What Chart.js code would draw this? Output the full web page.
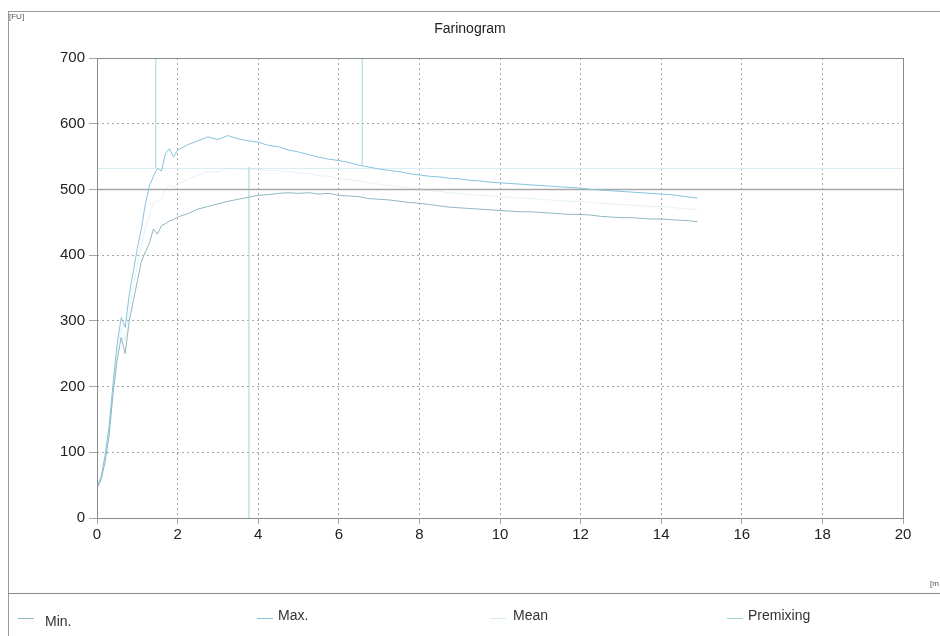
<!DOCTYPE html>
<html>
<head>
<meta charset="utf-8">
<script src="https://cdn.jsdelivr.net/npm/chart.js@4"></script>
<style>
  html, body { margin: 0; padding: 0; background: #fff; }
  #wrap { position: relative; width: 940px; height: 636px; font-family: "Liberation Sans", Arial, sans-serif; color: #333; }
  #c { position: absolute; left: 0; top: 0; }
  .frameTop { position: absolute; left: 8px; top: 11px; width: 932px; height: 0; border-top: 1px solid #9a9a9a; }
  .frameLeft { position: absolute; left: 8px; top: 11px; width: 0; height: 625px; border-left: 1px solid #9a9a9a; }
  .frameSep { position: absolute; left: 8px; top: 593px; width: 932px; height: 0; border-top: 1px solid #8a8a8a; }
  .unit { position: absolute; font-size: 8px; color: #555; }
  .title { position: absolute; left: 0; width: 940px; top: 20px; text-align: center; font-size: 14px; color: #222; }
  .leg { position: absolute; top: 609px; font-size: 14px; color: #333; }
  .leg span.ln { position: absolute; top: 9px; height: 0; width: 16px; border-top: 1px solid; }
</style>
</head>
<body>
<div id="wrap">
  <canvas id="c" width="940" height="636"></canvas>
  <div class="frameTop"></div>
  <div class="frameLeft"></div>
  <div class="frameSep"></div>
  <div class="unit" style="left:9px;top:12px;">[FU]</div>
  <div class="unit" style="left:930px;top:579px;">[m</div>
  <div class="title" id="title"></div>
  <div id="legend"></div>
</div>
<script>
// ---- data ----
const chartTitle = "Farinogram";
const time = [0,0.1,0.2,0.3,0.4,0.5,0.6,0.7,0.8,0.9,1.0,1.1,1.2,1.3,1.4,1.5,1.6,1.7,1.8,1.9,2.0,
  2.25,2.5,2.75,3.0,3.25,3.5,3.75,4.0,4.25,4.5,4.75,5.0,5.25,5.5,5.75,6.0,6.25,6.5,6.75,7.0,
  7.25,7.5,7.75,8.0,8.25,8.5,8.75,9.0,9.25,9.5,9.75,10.0,10.25,10.5,10.75,11.0,11.25,11.5,11.75,12.0,
  12.25,12.5,12.75,13.0,13.25,13.5,13.75,14.0,14.25,14.5,14.75,14.9];
const maxFU = [48,62,95,140,205,265,305,290,340,375,410,440,478,505,520,532,528,555,562,549,560,
  568,574,580,576,582,577,574,572,567,565,560,557,553,549,546,544,541,537,534,531,
  529,527,524,522,520,519,517,516,514,513,511,510,509,508,507,506,505,504,503,502,
  500,499,498,497,496,495,494,493,492,490,488,487];
const minFU = [45,58,85,125,190,240,275,250,300,330,360,390,405,418,440,432,445,448,452,454,458,
  463,470,474,478,482,485,488,491,492,494,495,494,495,493,494,491,490,489,486,485,
  484,482,480,479,477,475,473,472,471,470,469,468,467,466,466,465,464,463,462,462,
  461,459,458,457,457,456,455,455,454,453,452,451];
const meanFU = [46,60,90,132,198,252,290,270,320,352,385,415,441,461,480,482,486,501,507,501,509,
  515,522,527,527,532,531,531,531,529,529,527,525,524,521,520,517,515,513,510,508,
  506,504,502,500,498,497,495,494,492,491,490,489,488,487,486,485,484,483,482,482,
  480,479,478,477,476,475,474,474,473,471,470,469];
const xTicks = [0,2,4,6,8,10,12,14,16,18,20];
const yTicks = [0,100,200,300,400,500,600,700];
const refLevels = [500, 532];            // horizontal reference lines [FU]
const markerTimes = [1.46, 3.77, 6.58];  // vertical markers [min]
const markerFrom = [532, 0, 537];
const markerTo = [700, 534, 700];
const legendLabels = ["Min.", "Max.", "Mean", "Premixing"];

// ---- styles ----
const cMin = "#8fb6c2", cMax = "#86c4de", cMean = "rgba(160,210,220,0.28)", cPre = "#9fd4dc";
const legendColors = [cMin, cMax, "#d3ebf0", cPre];
const legendPos = [[18,45],[257,278],[490,513],[727,748]];

document.getElementById("title").textContent = chartTitle;
const legEl = document.getElementById("legend");
legendLabels.forEach((t, i) => {
  const d = document.createElement("div");
  d.className = "leg";
  d.style.left = legendPos[i][0] + "px";
  d.style.width = "120px";
  const ln = document.createElement("span");
  ln.className = "ln";
  ln.style.left = "0px";
  ln.style.borderTopColor = legendColors[i];
  const tx = document.createElement("span");
  tx.style.position = "absolute";
  tx.style.left = (legendPos[i][1] - legendPos[i][0]) + "px";
  tx.style.top = i === 0 ? "4px" : "-2px";
  tx.textContent = t;
  d.appendChild(ln); d.appendChild(tx);
  legEl.appendChild(d);
});

const pts = arr => time.map((t, i) => ({x: t, y: arr[i]}));
const datasets = [
  {label: legendLabels[0], data: pts(minFU), borderColor: cMin, borderWidth: 1},
  {label: legendLabels[1], data: pts(maxFU), borderColor: cMax, borderWidth: 1},
  {label: legendLabels[2], data: pts(meanFU), borderColor: cMean, borderWidth: 1},
];
refLevels.forEach((v, i) => datasets.push({
  label: "ref" + i, data: [{x: 0, y: v}, {x: 20, y: v}],
  borderColor: i === 0 ? "#a8a8a8" : "#d3ebf0", borderWidth: i === 0 ? 1.5 : 1
}));
markerTimes.forEach((t, i) => datasets.push({
  label: "mark" + i, data: [{x: t, y: markerFrom[i]}, {x: t, y: markerTo[i]}],
  borderColor: cPre, borderWidth: 1
}));
datasets.forEach(d => { d.pointRadius = 0; d.tension = 0; d.fill = false; });

const frame = {
  id: "frame",
  afterDraw(chart) {
    const a = chart.chartArea, ctx = chart.ctx;
    ctx.save();
    ctx.setLineDash([]);
    ctx.strokeStyle = "#8a8a8a";
    ctx.lineWidth = 1;
    ctx.strokeRect(Math.round(a.left) + 0.5, Math.round(a.top) + 0.5, Math.round(a.right - a.left), Math.round(a.bottom - a.top));
    ctx.restore();
  }
};

new Chart(document.getElementById("c"), {
  type: "line",
  data: {datasets},
  plugins: [frame],
  options: {
    responsive: false,
    animation: false,
    layout: {padding: {top: 58, right: 37, bottom: 88, left: 0}},
    plugins: {legend: {display: false}, title: {display: false}, tooltip: {enabled: false}},
    scales: {
      x: {
        type: "linear", min: 0, max: 20,
        afterBuildTicks: s => { s.ticks = xTicks.map(v => ({value: v})); },
        afterFit: s => { s.height = 30; },
        ticks: {color: "#222", font: {family: "Liberation Sans", size: 15}, padding: 2, maxRotation: 0},
        grid: {color: "#a6a6a6", lineWidth: 1, tickLength: 6, drawOnChartArea: true},
        border: {display: false, dash: [2, 3]}
      },
      y: {
        type: "linear", min: 0, max: 700,
        afterBuildTicks: s => { s.ticks = yTicks.map(v => ({value: v})); },
        afterFit: s => { s.width = 97; },
        ticks: {color: "#222", font: {family: "Liberation Sans", size: 15}, padding: 4},
        grid: {color: "#a6a6a6", lineWidth: 1, tickLength: 8},
        border: {display: false, dash: [2, 3]}
      }
    }
  }
});
</script>
</body>
</html>
